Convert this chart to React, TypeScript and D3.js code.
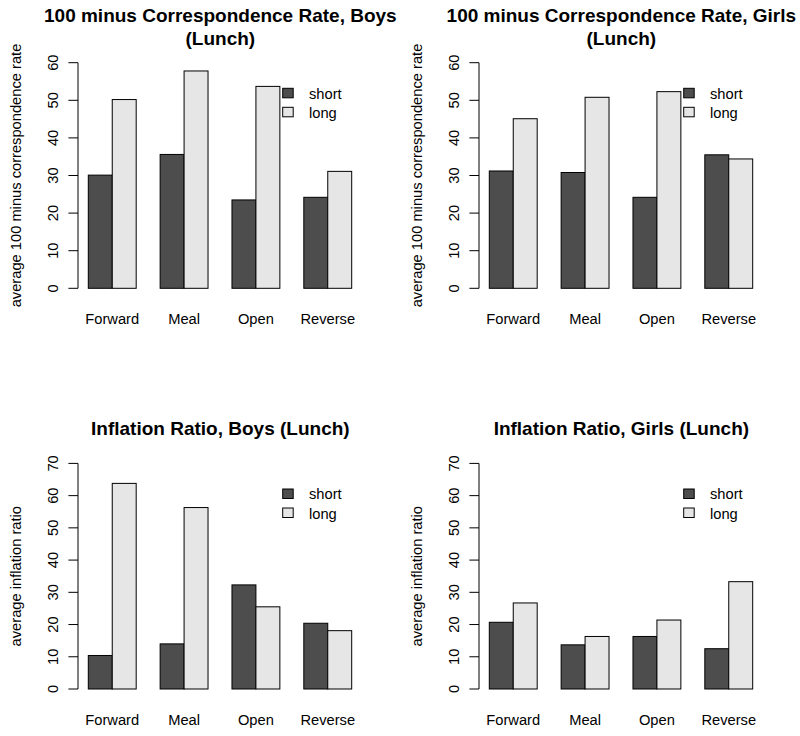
import React from 'react';
import * as d3 from 'd3';

const categories = ['Forward', 'Meal', 'Open', 'Reverse'];
const seriesNames = ['short', 'long'];
const seriesColors = ['#4d4d4d', '#e6e6e6'];

const corrBoysShort = [30.1, 35.6, 23.5, 24.2];
const corrBoysLong = [50.2, 57.8, 53.7, 31.1];
const corrGirlsShort = [31.2, 30.8, 24.2, 35.5];
const corrGirlsLong = [45.1, 50.8, 52.3, 34.4];

const inflBoysShort = [10.4, 14.0, 32.3, 20.4];
const inflBoysLong = [63.8, 56.3, 25.5, 18.1];
const inflGirlsShort = [20.7, 13.7, 16.3, 12.5];
const inflGirlsLong = [26.7, 16.3, 21.4, 33.3];

const corrTicks = [0, 10, 20, 30, 40, 50, 60];
const inflTicks = [0, 10, 20, 30, 40, 50, 60, 70];

const FONT = '"Liberation Sans", Arial, Helvetica, sans-serif';
const LABEL_SIZE = 14.7;

interface PanelProps {
  ox: number;
  oy: number;
  title: string[];
  yLabel: string;
  ticks: number[];
  shortVals: number[];
  longVals: number[];
}

const Panel: React.FC<PanelProps> = ({ ox, oy, title, yLabel, ticks, shortVals, longVals }) => {
  // plot geometry (local coords)
  const y0 = 288.3;
  const yTop = 62.7;
  const firstBarLeft = 88.3;
  const lastBarRight = 351.7;
  const axisX = 78;

  const yScale = d3.scaleLinear()
    .domain([0, ticks[ticks.length - 1]])
    .range([y0, yTop]);

  const xOuter = d3.scaleBand<string>()
    .domain(categories)
    .range([firstBarLeft, lastBarRight])
    .paddingInner(1 / 3)
    .paddingOuter(0);

  const xInner = d3.scaleBand<string>()
    .domain(seriesNames)
    .range([0, xOuter.bandwidth()])
    .padding(0);

  const values = [shortVals, longVals];
  const centerX = (axisX + 362.7) / 2;
  const titleY = title.length === 2 ? [22, 45] : [34.5];

  return (
    <g transform={`translate(${ox},${oy})`} fontFamily={FONT}>
      {title.map((t, i) => (
        <text key={i} x={centerX} y={titleY[i]} textAnchor="middle" fontSize={19} fontWeight="bold" fill="#000">
          {t}
        </text>
      ))}

      {/* bars */}
      {categories.map((c, ci) => (
        <g key={c} transform={`translate(${xOuter(c)},0)`}>
          {seriesNames.map((s, si) => {
            const v = values[si][ci];
            return (
              <rect
                key={s}
                x={xInner(s)}
                y={yScale(v)}
                width={xInner.bandwidth()}
                height={y0 - yScale(v)}
                fill={seriesColors[si]}
                stroke="#000"
                strokeWidth={1}
              />
            );
          })}
          <text
            x={xOuter.bandwidth() / 2}
            y={324}
            textAnchor="middle"
            fontSize={LABEL_SIZE}
            fill="#000"
          >
            {c}
          </text>
        </g>
      ))}

      {/* y axis */}
      <line x1={axisX} x2={axisX} y1={yScale(ticks[0])} y2={yScale(ticks[ticks.length - 1])} stroke="#000" strokeWidth={1} />
      {ticks.map(t => (
        <g key={t}>
          <line x1={axisX - 9.6} x2={axisX} y1={yScale(t)} y2={yScale(t)} stroke="#000" strokeWidth={1} />
          <text
            transform={`translate(57.5,${yScale(t)}) rotate(-90)`}
            textAnchor="middle"
            fontSize={LABEL_SIZE}
            fill="#000"
          >
            {t}
          </text>
        </g>
      ))}
      <text
        transform={`translate(20.5,${(y0 + yTop) / 2}) rotate(-90)`}
        textAnchor="middle"
        fontSize={LABEL_SIZE}
        fill="#000"
      >
        {yLabel}
      </text>

      {/* legend */}
      {seriesNames.map((s, si) => (
        <g key={s}>
          <rect x={282.7} y={88.3 + si * 19} width={10.5} height={9.5} fill={seriesColors[si]} stroke="#000" strokeWidth={1} />
          <text x={309} y={98.5 + si * 19.5} fontSize={LABEL_SIZE} fill="#000">{s}</text>
        </g>
      ))}
    </g>
  );
};

const App: React.FC = () => {
  return (
    <svg
      width={800}
      height={736}
      style={{ position: 'absolute', left: 0, top: 0, background: '#fff' }}
    >
      <rect width={800} height={736} fill="#fff" />
      <Panel
        ox={0}
        oy={0}
        title={['100 minus Correspondence Rate, Boys', '(Lunch)']}
        yLabel="average 100 minus correspondence rate"
        ticks={corrTicks}
        shortVals={corrBoysShort}
        longVals={corrBoysLong}
      />
      <Panel
        ox={401}
        oy={0}
        title={['100 minus Correspondence Rate, Girls', '(Lunch)']}
        yLabel="average 100 minus correspondence rate"
        ticks={corrTicks}
        shortVals={corrGirlsShort}
        longVals={corrGirlsLong}
      />
      <Panel
        ox={0}
        oy={400.7}
        title={['Inflation Ratio, Boys (Lunch)']}
        yLabel="average inflation ratio"
        ticks={inflTicks}
        shortVals={inflBoysShort}
        longVals={inflBoysLong}
      />
      <Panel
        ox={401}
        oy={400.7}
        title={['Inflation Ratio, Girls (Lunch)']}
        yLabel="average inflation ratio"
        ticks={inflTicks}
        shortVals={inflGirlsShort}
        longVals={inflGirlsLong}
      />
    </svg>
  );
};

export default App;
